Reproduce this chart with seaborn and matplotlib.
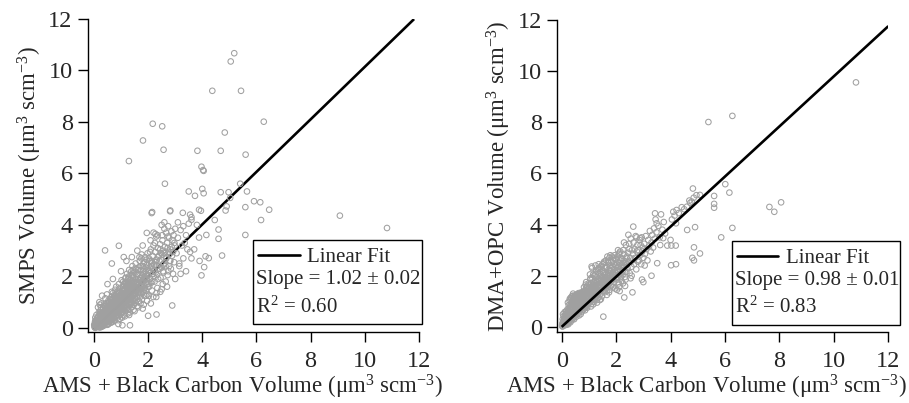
import matplotlib
matplotlib.use("Agg")
import matplotlib.pyplot as plt
import seaborn as sns
import numpy as np
from matplotlib.patches import Rectangle

# ---------------- LEFT PANEL (SMPS vs AMS + BC) ----------------
L_a_x = [0.02,0.04,0.05,0.07,0.08,0.10,0.11,0.12,0.14,0.15, 0.16,0.17,0.18,0.19,0.03,0.09,0.13,0.06,0.18,0.20]
L_a_y = [0.05,0.18,0.00,0.30,0.10,0.22,0.04,0.38,0.14,0.26, 0.08,0.45,0.20,0.02,0.12,0.50,0.32,0.28,0.60,0.15]
L_b_x = [0.21,0.22,0.23,0.24,0.25,0.26,0.27,0.28,0.29,0.30, 0.31,0.32,0.33,0.34,0.35,0.36,0.37,0.38,0.39,0.40, 0.22,0.26,0.30,0.34,0.38,0.24,0.28,0.32,0.36,0.40]
L_b_y = [0.35,0.06,0.52,0.22,0.70,0.12,0.42,0.28,0.60,0.05, 0.48,0.20,0.78,0.34,0.55,0.15,0.66,0.40,0.25,0.85, 0.90,0.80,0.30,0.62,0.10,0.45,0.95,0.10,0.45,0.30]
L_c_x = [0.41,0.42,0.43,0.44,0.45,0.46,0.47,0.48,0.49,0.50, 0.51,0.52,0.53,0.54,0.55,0.56,0.57,0.58,0.59,0.60, 0.42,0.46,0.50,0.54,0.58,0.44,0.48,0.52,0.56,0.60]
L_c_y = [0.55,0.18,0.72,0.38,0.95,0.25,0.60,0.45,0.82,0.12, 0.68,0.35,1.05,0.50,0.75,0.22,0.90,0.58,0.40,1.10, 1.15,0.50,0.95,0.15,0.70,0.30,1.30,0.62,0.98,0.28]
L_d_x = [0.61,0.62,0.63,0.64,0.65,0.66,0.67,0.68,0.69,0.70, 0.71,0.72,0.73,0.74,0.75,0.76,0.77,0.78,0.79,0.80, 0.62,0.66,0.70,0.74,0.78,0.64,0.68,0.72,0.76,0.80]
L_d_y = [0.80,0.40,1.00,0.55,1.22,0.32,0.72,0.95,0.48,1.35, 0.62,0.88,0.42,1.12,0.75,0.28,1.02,0.58,1.25,0.85, 0.20,1.40,0.50,0.95,1.48,0.65,1.10,0.25,0.68,0.45]
L_e_x = [0.81,0.82,0.83,0.84,0.85,0.86,0.87,0.88,0.89,0.90, 0.91,0.92,0.93,0.94,0.95,0.96,0.97,0.98,0.99,1.00, 0.82,0.86,0.90,0.94,0.98,0.84,0.88,0.92,0.96,1.00]
L_e_y = [1.05,0.55,1.30,0.70,0.92,0.40,1.18,0.80,1.45,0.62, 1.00,0.48,1.25,0.85,1.55,0.68,0.95,1.15,0.52,1.35, 1.60,1.10,0.30,1.38,0.78,1.22,0.98,1.70,0.35,0.72]
L_f_x = [1.01,1.02,1.03,1.04,1.05,1.06,1.07,1.08,1.09,1.10, 1.11,1.12,1.13,1.14,1.15,1.16,1.17,1.18,1.19,1.20, 1.02,1.06,1.10,1.14,1.18,1.04,1.08,1.12,1.16,1.20]
L_f_y = [0.88,1.20,0.60,1.45,1.02,0.75,1.62,0.95,1.30,0.50, 1.12,1.50,0.82,1.75,1.05,0.65,1.38,1.18,0.90,1.58, 1.85,1.35,0.98,0.45,1.68,0.40,1.80,1.25,1.92,0.72]
L_g_x = [1.21,1.22,1.23,1.24,1.25,1.26,1.27,1.28,1.29,1.30, 1.31,1.32,1.33,1.34,1.35,1.36,1.37,1.38,1.39,1.40, 1.22,1.26,1.30,1.34,1.38,1.24,1.28,1.36]
L_g_y = [1.28,0.85,1.65,1.05,1.45,0.70,1.90,1.15,1.55,0.92, 1.75,1.35,0.60,1.60,1.20,2.05,1.00,1.48,1.82,0.80, 2.10,1.70,1.30,0.95,2.20,0.55,1.95,1.10]
L_h_x = [1.41,1.42,1.43,1.44,1.45,1.46,1.47,1.48,1.49,1.50, 1.51,1.52,1.53,1.54,1.55,1.56,1.57,1.58,1.59,1.60, 1.42,1.46,1.50,1.54,1.58,1.44]
L_h_y = [1.40,1.72,1.05,1.95,1.25,1.58,0.90,2.15,1.35,1.80, 1.15,1.62,2.30,0.98,1.45,1.88,1.20,2.05,1.55,0.85, 2.40,0.70,1.05,2.50,1.70,2.25]
L_i_x = [1.61,1.62,1.63,1.64,1.65,1.66,1.67,1.68,1.69,1.70, 1.71,1.72,1.73,1.74,1.75,1.76,1.77,1.78,1.79,1.80, 1.64,1.72,1.76,1.68]
L_i_y = [1.75,1.30,2.10,1.55,2.35,1.05,1.85,1.45,2.60,1.20, 1.95,1.60,2.25,1.35,2.70,1.78,1.10,2.05,1.50,2.40, 0.80,0.95,2.85,2.75]
L_j_x = [1.81,1.82,1.83,1.84,1.85,1.86,1.87,1.88,1.89,1.90, 1.91,1.92,1.93,1.94,1.95,1.96,1.97,1.98,1.99,2.00, 1.84,1.96]
L_j_y = [1.85,1.40,2.20,1.65,2.55,1.25,2.00,1.55,2.75,1.90, 2.35,1.45,2.10,2.65,1.70,2.45,1.30,2.90,2.05,1.60, 0.90,1.05]
L_k_x = [2.02,2.04,2.06,2.08,2.10,2.12,2.14,2.16,2.18,2.20, 2.03,2.07,2.11,2.15,2.19,2.09]
L_k_y = [2.20,1.60,2.60,1.90,3.05,2.40,1.45,2.80,2.10,3.20, 1.25,2.95,1.75,2.55,1.20,3.40]
L_l_x = [2.22,2.24,2.26,2.28,2.30,2.32,2.34,2.36,2.38,2.40, 2.25,2.31,2.37,2.27]
L_l_y = [2.45,1.80,2.95,2.15,3.55,2.65,1.55,3.10,2.30,2.80, 3.30,1.35,1.90,3.65]
L_m_x = [2.42,2.44,2.46,2.48,2.50,2.52,2.54,2.56,2.58,2.60, 2.45,2.53,2.57]
L_m_y = [2.60,3.25,1.95,2.90,2.35,3.60,1.70,3.00,2.50,3.85, 1.40,3.40,2.15]
L_n_x = [2.62,2.64,2.66,2.68,2.70,2.72,2.74,2.76,2.78,2.80, 2.65,2.73]
L_n_y = [3.15,2.40,3.70,2.75,3.30,2.05,3.95,2.95,3.50,2.60, 1.80,3.55]
L_o_x = [2.82,2.84,2.86,2.88,2.90,2.92,2.94,2.96,2.98,3.00, 3.05,3.10,3.15,3.20,3.25,3.30,3.40,3.45,3.50,3.55]
L_o_y = [3.05,2.30,3.75,2.80,3.40,2.10,3.60,2.55,3.20,3.85, 2.90,3.50,2.40,3.80,3.20,2.70,3.60,3.05,4.05,2.95]
L_p_x = [0.01,0.03,0.04,0.06,0.07,0.09,0.10,0.12,0.13,0.15, 0.16,0.18,0.19,0.21,0.22,0.24,0.25,0.27,0.28,0.30,
         0.31,0.33,0.34,0.36,0.37,0.39,0.40,0.42,0.43,0.45, 0.46,0.48,0.49,0.05,0.11,0.17,0.23,0.29,0.35,0.41]
L_p_y = [0.12,0.02,0.24,0.08,0.16,0.04,0.30,0.10,0.22,0.40, 0.05,0.32,0.12,0.18,0.42,0.02,0.28,0.52,0.14,0.36,
         0.22,0.46,0.08,0.30,0.58,0.16,0.42,0.26,0.64,0.35, 0.12,0.50,0.70,0.40,0.14,0.28,0.62,0.48,0.20,0.85]
L_q_x = [0.50,0.52,0.53,0.55,0.56,0.58,0.59,0.61,0.62,0.64, 0.65,0.67,0.68,0.70,0.71,0.73,0.74,0.76,0.77,0.79,
         0.80,0.82,0.83,0.85,0.86,0.88,0.89,0.91,0.92,0.94, 0.95,0.97,0.98,1.00,0.51,0.57,0.63,0.69,0.75,0.81,
         0.87,0.93,0.99,0.54,0.66]
L_q_y = [0.42,0.65,0.28,0.55,0.82,0.38,0.62,0.90,0.48,0.72, 0.35,0.60,0.85,0.52,0.98,0.68,0.40,0.80,1.08,0.58,
         0.75,0.92,0.50,1.15,0.70,0.88,0.60,1.05,0.78,0.95, 1.20,0.66,0.85,1.02,0.30,0.75,1.12,0.62,1.28,0.45,
         1.35,0.58,1.25,1.00,0.22]
L_r_x = [1.01,1.03,1.04,1.06,1.07,1.09,1.10,1.12,1.13,1.15, 1.16,1.18,1.19,1.21,1.22,1.24,1.25,1.27,1.28,1.30,
         1.31,1.33,1.34,1.36,1.37,1.39,1.40,1.42,1.43,1.45, 1.46,1.48,1.49,1.05,1.11,1.17,1.23,1.29,1.35,1.41]
L_r_y = [1.10,0.80,1.28,0.98,1.50,1.15,0.72,1.35,1.05,1.22, 1.45,0.88,1.62,1.18,1.38,0.95,1.58,1.28,1.08,1.70,
         1.40,1.15,1.85,1.30,1.55,0.98,1.22,1.65,1.42,1.12, 1.78,1.50,1.30,0.62,1.70,1.95,0.78,2.00,0.90,2.05]
L_s_x = [1.50,1.52,1.55,1.57,1.60,1.62,1.65,1.67,1.70,1.72, 1.75,1.77,1.80,1.82,1.85,1.87,1.90,1.92,1.95,1.97,
         2.00,2.02,2.05,2.07,2.10,2.12,2.15,2.17,2.20,1.53, 1.63,1.73,1.83,1.93,2.03,2.13]
L_s_y = [1.55,1.30,1.75,1.45,1.60,1.90,1.38,1.70,1.85,1.50, 1.95,1.62,1.78,2.10,1.48,1.95,2.20,1.75,1.88,2.30,
         2.05,1.70,2.35,1.92,2.15,2.50,1.80,2.28,2.00,2.15, 2.25,2.40,2.50,1.25,2.70,2.60]
L_t_x = [2.22,2.27,2.32,2.37,2.42,2.47,2.52,2.57,2.62,2.67, 2.72,2.77,2.82,2.87,2.92,2.97,2.33,2.55,2.78,2.45]
L_t_y = [2.20,2.55,2.40,2.75,2.30,2.65,2.85,2.45,2.90,2.70, 3.10,2.85,2.60,3.15,2.95,3.30,2.05,2.20,2.40,3.05]
L_spread_x = [1.30,1.50,1.80,2.10,2.30,2.50,2.70,3.00,3.20,3.40, 3.60,3.90,0.50,0.70,1.00,1.20,1.40,1.10,1.60,1.80,
              2.20,2.35,2.50,2.60,3.10,3.30,3.60,3.80,1.30,0.30, 0.20,0.15,0.90,3.35,3.70,2.75,3.15]
L_spread_y = [0.50,0.65,0.75,0.95,1.20,1.50,1.60,1.90,2.10,2.20, 2.70,2.60,1.70,1.90,2.20,2.60,2.75,2.75,3.00,3.20,
              3.70,3.60,4.00,4.10,4.10,3.95,4.30,4.00,2.25,1.25, 1.00,0.80,0.15,3.30,3.05,2.20,2.50]
L_out_x = [5.18,5.05,4.37,5.43,6.27,2.17,2.52,4.83,1.81,2.57, 3.82,4.68,5.60,1.29,3.97,4.03,4.05,2.62,5.40,3.50,
           3.73,4.05,4.00,4.68,4.97,5.03,5.65,5.91,6.14,6.47, 5.59,4.90,4.86,3.88,3.95,3.55,3.60,3.28,2.82,2.15,
           6.17,4.46,9.08,10.82,4.60,5.59,4.60,4.15,3.88,4.73, 4.12,4.24,4.07,3.97,0.41,0.92,0.66,2.89,2.00,1.05,
           2.13,2.81,1.95,2.31,1.33]
L_out_y = [10.67,10.35,9.21,9.21,8.01,7.93,7.83,7.59,7.28,6.92, 6.88,6.88,6.73,6.48,6.26,6.13,6.10,5.60,5.60,5.30,
           5.13,5.23,5.40,5.27,5.27,5.05,5.30,4.92,4.88,4.59, 4.69,4.72,4.56,4.59,4.55,4.40,4.20,4.47,4.56,4.50,
           4.19,4.19,4.36,3.88,3.82,3.61,3.46,3.61,3.51,2.81, 2.78,2.71,2.36,2.04,3.01,3.19,2.50,0.87,0.47,0.10,
           4.46,4.53,3.69,0.52,0.10]

# ---------------- RIGHT PANEL (DMA+OPC vs AMS + BC) ----------------
R_a_x = [0.02,0.03,0.05,0.06,0.08,0.09,0.10,0.12,0.13,0.15, 0.16,0.17,0.18,0.19,0.20,0.04,0.11,0.14,0.07,0.18]
R_a_y = [0.02,0.10,0.05,0.18,0.12,0.25,0.06,0.20,0.32,0.14, 0.28,0.08,0.38,0.20,0.12,0.30,0.40,0.48,0.42,0.55]
R_b_x = [0.21,0.22,0.23,0.24,0.25,0.26,0.27,0.28,0.29,0.30, 0.31,0.32,0.33,0.34,0.35,0.36,0.37,0.38,0.39,0.40, 0.22,0.26,0.30,0.34,0.38,0.24,0.32,0.36]
R_b_y = [0.25,0.45,0.15,0.60,0.32,0.50,0.20,0.72,0.38,0.55, 0.28,0.85,0.45,0.65,0.35,0.95,0.52,0.78,0.30,1.05, 0.70,0.85,1.10,1.15,1.20,0.10,0.18,0.25]
R_c_x = [0.41,0.42,0.43,0.44,0.45,0.46,0.47,0.48,0.49,0.50, 0.51,0.52,0.53,0.54,0.55,0.56,0.57,0.58,0.59,0.60, 0.42,0.46,0.50,0.54,0.58,0.44,0.52,0.56]
R_c_y = [0.45,0.72,0.35,0.90,0.58,1.15,0.42,0.80,1.22,0.62, 0.98,0.48,1.25,0.70,1.10,0.55,0.88,1.28,0.65,1.05, 1.30,0.30,1.18,0.40,0.50,1.05,0.85,1.20]
R_d_x = [0.61,0.62,0.63,0.64,0.65,0.66,0.67,0.68,0.69,0.70, 0.71,0.72,0.73,0.74,0.75,0.76,0.77,0.78,0.79,0.80, 0.62,0.66,0.70,0.74,0.78,0.64,0.72,0.76]
R_d_y = [0.70,1.15,0.55,0.95,1.25,0.62,1.02,0.80,1.30,0.68, 1.10,0.85,1.22,0.60,0.98,1.28,0.75,1.12,0.90,1.35, 1.32,1.20,0.50,1.18,0.65,0.45,1.30,1.05]
R_e_x = [0.81,0.82,0.83,0.84,0.85,0.86,0.87,0.88,0.89,0.90, 0.91,0.92,0.93,0.94,0.95,0.96,0.97,0.98,0.99,1.00, 0.82,0.86,0.90,0.94,0.98,0.88]
R_e_y = [0.85,1.20,0.72,1.05,1.40,0.80,1.28,0.95,1.15,1.50, 0.78,1.32,1.00,1.60,0.88,1.22,1.45,0.92,1.70,1.10, 1.55,0.65,1.75,0.75,1.35,1.65]
R_f_x = [1.01,1.02,1.03,1.04,1.05,1.06,1.07,1.08,1.09,1.10, 1.11,1.12,1.13,1.14,1.15,1.16,1.17,1.18,1.19,1.20, 1.04,1.08,1.12,1.16,1.10,1.18]
R_f_y = [1.30,0.95,1.55,1.15,1.85,1.00,1.40,1.70,0.90,1.25, 1.60,1.05,1.90,1.35,1.12,1.75,1.48,0.98,2.00,1.28, 2.05,0.80,2.30,0.88,2.36,1.62]
R_g_x = [1.21,1.22,1.23,1.24,1.25,1.26,1.27,1.28,1.29,1.30, 1.31,1.32,1.33,1.34,1.35,1.36,1.37,1.38,1.39,1.40, 1.24,1.30,1.36,1.40]
R_g_y = [1.55,1.10,1.80,1.35,2.05,1.20,1.65,1.95,1.05,1.45, 1.75,2.15,1.30,1.58,2.25,1.15,1.85,1.50,2.10,1.38, 2.40,0.95,2.45,1.05]
R_h_x = [1.41,1.42,1.43,1.44,1.45,1.46,1.47,1.48,1.49,1.50, 1.51,1.52,1.53,1.54,1.55,1.56,1.57,1.58,1.59,1.60, 1.44,1.53]
R_h_y = [1.60,2.00,1.30,1.80,2.35,1.45,1.95,1.20,2.20,1.65, 2.45,1.40,1.85,2.10,1.55,2.55,1.35,1.95,2.30,1.70, 1.08,0.40]
R_i_x = [1.61,1.62,1.63,1.64,1.65,1.66,1.67,1.68,1.69,1.70, 1.71,1.72,1.73,1.74,1.75,1.76,1.77,1.78,1.79,1.80, 1.66,1.74]
R_i_y = [2.15,1.50,2.60,1.85,1.40,2.35,1.70,2.75,1.55,2.05, 2.50,1.65,2.25,1.90,2.70,1.45,2.40,2.00,2.80,1.75, 1.25,1.35]
R_j_x = [1.81,1.82,1.83,1.84,1.85,1.86,1.87,1.88,1.89,1.90, 1.91,1.92,1.93,1.94,1.95,1.96,1.97,1.98,1.99,2.00]
R_j_y = [2.20,1.60,2.55,1.85,2.75,1.70,2.35,2.05,1.55,2.60, 1.95,2.45,1.75,2.80,2.15,1.50,2.65,1.90,2.40,2.10]
R_k_x = [2.02,2.04,2.06,2.08,2.10,2.12,2.14,2.16,2.18,2.20, 2.03,2.07,2.11,2.15,2.19,2.09,2.13,2.17]
R_k_y = [2.50,1.85,2.75,2.20,1.70,2.90,2.05,2.60,2.35,1.80, 1.45,3.00,1.55,2.95,2.70,2.40,1.40,1.95]
R_l_x = [2.22,2.24,2.26,2.28,2.30,2.32,2.34,2.36,2.38,2.40, 2.25,2.29,2.33,2.37,2.27,2.35]
R_l_y = [2.65,2.05,3.00,2.30,2.85,1.95,2.55,3.20,2.15,2.75, 1.70,3.30,1.60,2.45,2.50,1.85]
R_m_x = [2.42,2.44,2.46,2.48,2.50,2.52,2.54,2.56,2.58,2.60, 2.45,2.53,2.57,2.49]
R_m_y = [2.30,2.90,2.55,3.25,2.10,2.70,3.45,2.35,3.00,2.60, 3.60,1.90,2.00,3.05]
R_n_x = [2.62,2.64,2.66,2.68,2.70,2.72,2.74,2.76,2.78,2.80, 2.63,2.75, 2.82,2.84,2.86,2.88,2.90,2.92,2.94,2.96,2.98,3.00, 2.88,2.95]
R_n_y = [2.85,3.30,2.45,3.05,2.70,3.55,2.25,2.95,3.20,2.55, 3.92,3.50, 3.00,2.60,3.40,2.80,3.20,2.45,3.50,2.95,3.10,2.70, 3.47,1.85]
R_p_x = [3.03,3.06,3.09,3.12,3.15,3.18,3.21,3.24,3.27,3.30, 3.33,3.36,3.39,3.05]
R_p_y = [3.25,2.85,3.55,3.05,2.60,3.40,3.15,3.75,2.95,3.30, 3.60,3.10,3.85,2.40]
R_q_x = [3.42,3.45,3.48,3.51,3.55,3.60,3.65,3.70,3.75,3.80, 3.43,3.49,3.62,3.73]
R_q_y = [3.45,4.20,3.70,2.49,3.95,3.50,4.40,3.80,4.10,3.65, 4.44,4.05,3.20,3.47]
R_r_x = [4.05,4.10,4.15,4.22,4.30,4.41,4.50,4.60,4.69,4.72, 4.78,4.85,4.95,4.20]
R_r_y = [4.20,4.50,4.35,4.57,4.45,4.68,4.60,4.70,4.94,4.85, 4.90,5.05,5.15,4.05]
R_s_x = [0.01,0.03,0.04,0.06,0.07,0.09,0.10,0.12,0.13,0.15, 0.16,0.18,0.19,0.21,0.22,0.24,0.25,0.27,0.28,0.30,
         0.31,0.33,0.34,0.36,0.37,0.39,0.40,0.42,0.43,0.45, 0.46,0.48,0.49,0.05,0.11,0.17,0.23,0.29,0.35,0.41]
R_s_y = [0.06,0.15,0.02,0.22,0.10,0.28,0.14,0.35,0.08,0.22, 0.42,0.15,0.30,0.50,0.18,0.38,0.58,0.26,0.45,0.68,
         0.35,0.55,0.80,0.42,0.92,0.60,0.75,1.00,0.50,0.82, 1.10,0.65,0.95,0.50,0.58,0.62,0.95,1.02,1.12,1.22]
R_t_x = [0.50,0.52,0.53,0.55,0.56,0.58,0.59,0.61,0.62,0.64, 0.65,0.67,0.68,0.70,0.71,0.73,0.74,0.76,0.77,0.79,
         0.80,0.82,0.83,0.85,0.86,0.88,0.89,0.91,0.92,0.94, 0.95,0.97,0.98,1.00,0.54,0.63,0.72,0.81,0.90,0.99]
R_t_y = [0.80,1.02,0.62,0.92,1.18,0.75,1.08,0.88,1.22,0.66, 1.00,1.15,0.78,1.25,0.92,1.05,1.30,0.82,1.18,1.00,
         1.10,0.90,1.28,1.02,1.42,0.85,1.20,1.35,1.00,1.15, 1.30,1.48,1.08,1.22,1.25,1.28,1.35,1.38,1.55,1.55]
R_u_x = [1.01,1.03,1.05,1.07,1.09,1.11,1.13,1.15,1.17,1.19, 1.21,1.23,1.25,1.27,1.29,1.31,1.33,1.35,1.37,1.39,
         1.41,1.43,1.45,1.47,1.49,1.51,1.53,1.55,1.57,1.59, 1.06,1.16,1.26,1.36,1.46,1.56]
R_u_y = [1.15,1.40,1.05,1.25,1.55,1.18,1.40,1.65,1.22,1.48, 1.35,1.62,1.28,1.50,1.75,1.40,1.62,1.32,1.80,1.58,
         1.45,1.72,1.60,1.85,1.50,1.75,1.95,1.62,1.85,2.05, 1.90,2.05,2.20,2.30,2.40,2.50]
R_v_x = [1.62,1.65,1.68,1.71,1.74,1.77,1.80,1.83,1.86,1.89, 1.92,1.95,1.98,2.01,2.04,2.07,2.10,2.13,2.16,2.19,
         2.22,2.25,2.28,2.31,2.34,2.37,2.40,1.70,1.90,2.10]
R_v_y = [1.80,1.95,1.65,2.10,1.88,2.20,1.95,2.30,2.05,1.90, 2.25,2.00,2.40,1.95,2.20,2.35,2.05,2.50,2.25,2.10,
         2.40,2.20,2.60,2.35,2.15,2.70,2.45,2.55,2.70,2.85]
R_out_x = [10.81,5.39,6.27,6.01,6.16,5.60,5.60,5.60,4.82,5.08, 7.63,7.81,8.06,6.27,5.86,4.90,4.61,4.86,5.08,4.80,
           4.86,4.02,4.20,3.88,4.03,4.19,4.00,2.30,2.60,3.00, 3.30]
R_out_y = [9.56,8.01,8.25,5.58,5.25,5.12,4.81,4.66,5.41,5.16, 4.69,4.50,4.87,3.87,3.50,3.90,3.79,3.11,2.87,2.70,
           2.60,2.41,2.45,3.18,3.18,3.18,3.40,1.15,1.35,1.75, 2.00]

# Linear fits (from the legend boxes)
fit_left = dict(slope=1.02, intercept=-0.06, xmin=0.0, xmax=11.82)
fit_right = dict(slope=0.98, intercept=0.0, xmin=0.0, xmax=12.0)
legend_left = ["Linear Fit", "Slope = 1.02 \u00b1 0.02", "R$^2$ = 0.60"]
legend_right = ["Linear Fit", "Slope = 0.98 \u00b1 0.01", "R$^2$ = 0.83"]

ticks = [0, 2, 4, 6, 8, 10, 12]


def cat(*pairs):
    xs, ys = [], []
    for xa, ya in pairs:
        assert len(xa) == len(ya), (len(xa), len(ya))
        xs += xa
        ys += ya
    return np.array(xs), np.array(ys)


left_x, left_y = cat((L_a_x, L_a_y), (L_b_x, L_b_y), (L_c_x, L_c_y), (L_d_x, L_d_y),
                     (L_e_x, L_e_y), (L_f_x, L_f_y), (L_g_x, L_g_y), (L_h_x, L_h_y),
                     (L_i_x, L_i_y), (L_j_x, L_j_y), (L_k_x, L_k_y), (L_l_x, L_l_y),
                     (L_m_x, L_m_y), (L_n_x, L_n_y), (L_o_x, L_o_y), (L_p_x, L_p_y),
                     (L_q_x, L_q_y), (L_r_x, L_r_y), (L_s_x, L_s_y), (L_t_x, L_t_y),
                     (L_spread_x, L_spread_y), (L_out_x, L_out_y))
right_x, right_y = cat((R_a_x, R_a_y), (R_b_x, R_b_y), (R_c_x, R_c_y), (R_d_x, R_d_y),
                       (R_e_x, R_e_y), (R_f_x, R_f_y), (R_g_x, R_g_y), (R_h_x, R_h_y),
                       (R_i_x, R_i_y), (R_j_x, R_j_y), (R_k_x, R_k_y), (R_l_x, R_l_y),
                       (R_m_x, R_m_y), (R_n_x, R_n_y), (R_p_x, R_p_y), (R_q_x, R_q_y),
                       (R_r_x, R_r_y), (R_s_x, R_s_y), (R_t_x, R_t_y), (R_u_x, R_u_y),
                       (R_v_x, R_v_y), (R_out_x, R_out_y))

sns.set_style("ticks")
plt.rcParams["font.family"] = ["Liberation Serif", "DejaVu Serif"]
plt.rcParams["mathtext.fontset"] = "custom"
plt.rcParams["mathtext.rm"] = "Liberation Serif"
plt.rcParams["mathtext.it"] = "Liberation Serif:italic"
plt.rcParams["mathtext.bf"] = "Liberation Serif:bold"

fig = plt.figure(figsize=(9.09, 4.03), dpi=100)
axL = fig.add_axes([0.0968, 0.1762, 0.3641, 0.7767])
axR = fig.add_axes([0.6128, 0.1762, 0.3645, 0.7742])

PT_COLOR = "#a0a0a0"
xlabel = "AMS + Black Carbon Volume (\u03bcm$^{3}$ scm$^{-3}$)"


def draw(ax, x, y, fit, leg, ylabel, line_on_top, box, txt):
    xs = np.array([fit["xmin"], fit["xmax"]])
    ax.plot(xs, fit["intercept"] + fit["slope"] * xs, color="black", lw=1.9,
            zorder=4 if line_on_top else 1, solid_capstyle="butt")
    sns.scatterplot(x=x, y=y, ax=ax, s=16, color=PT_COLOR, facecolors="none",
                    edgecolor=PT_COLOR, linewidth=0.75, zorder=3, legend=False)
    ax.set_xlim(box["xlim"])
    ax.set_ylim(box["ylim"])
    ax.set_xticks(ticks)
    ax.set_yticks(ticks)
    ax.tick_params(direction="out", length=7, width=1.0, labelsize=17.5, color="black")
    ax.tick_params(axis="x", pad=7)
    ax.tick_params(axis="y", pad=4)
    for s in ("left", "bottom"):
        ax.spines[s].set_linewidth(1.0)
        ax.spines[s].set_color("black")
    sns.despine(ax=ax)
    ax.set_xlabel(xlabel, fontsize=16.5, labelpad=0)
    ax.xaxis.label.set_x(box["xlabel_x"])
    ax.set_ylabel(ylabel, fontsize=16.5, labelpad=3)
    # legend box
    bx0, by0, bx1, by1 = box["rect"]
    ax.add_patch(Rectangle((bx0, by0), bx1 - bx0, by1 - by0, transform=ax.transAxes,
                           facecolor="white", edgecolor="black", lw=1.0, zorder=5, clip_on=False))
    ax.plot([txt["lx0"], txt["lx1"]], [txt["ly"], txt["ly"]], transform=ax.transAxes,
            color="black", lw=1.9, zorder=6, clip_on=False)
    ax.text(txt["t1x"], txt["rows"][0], leg[0], transform=ax.transAxes, fontsize=15,
            ha="left", va="baseline", zorder=6)
    ax.text(txt["t2x"], txt["rows"][1], leg[1], transform=ax.transAxes, fontsize=15,
            ha="left", va="baseline", zorder=6)
    ax.text(txt["t2x"], txt["rows"][2], leg[2], transform=ax.transAxes, fontsize=15,
            ha="left", va="baseline", zorder=6)


draw(axL, left_x, left_y, fit_left, legend_left,
     "SMPS Volume (\u03bcm$^{3}$ scm$^{-3}$)", False,
     dict(xlim=(-0.22, 12), ylim=(-0.16, 12), rect=(0.4985, 0.0256, 1.009, 0.294), xlabel_x=0.468),
     dict(lx0=0.514, lx1=0.640, ly=0.246, t1x=0.661, t2x=0.508, rows=(0.223, 0.152, 0.060)))
draw(axR, right_x, right_y, fit_right, legend_right,
     "DMA+OPC Volume (\u03bcm$^{3}$ scm$^{-3}$)", True,
     dict(xlim=(-0.17, 12), ylim=(-0.2, 12), rect=(0.527, 0.0224, 1.035, 0.2917), xlabel_x=0.450),
     dict(lx0=0.542, lx1=0.668, ly=0.2436, t1x=0.691, t2x=0.538, rows=(0.220, 0.151, 0.060)))

fig.savefig("out.png", dpi=100)
